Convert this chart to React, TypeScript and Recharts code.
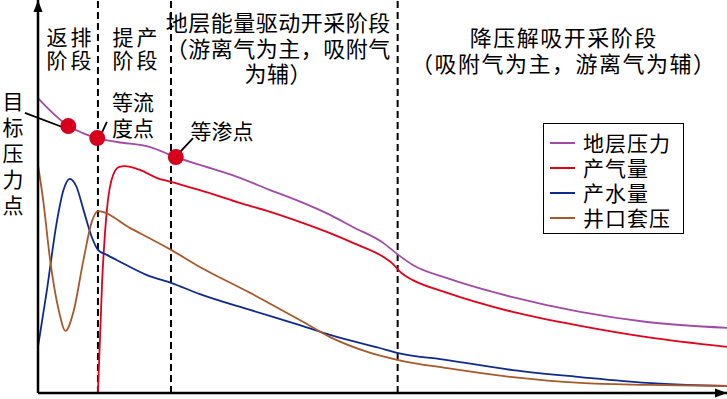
import type { CSSProperties } from 'react'
import {
  Legend,
  Line,
  LineChart,
  ReferenceDot,
  ReferenceLine,
  XAxis,
  YAxis,
} from 'recharts'

document.body.style.margin = '0'

// schematic units: x 0-100 along the time axis, y 0-101.3 up the value axis
const xPressure = [0, 1.7, 4.4, 6.5, 8.6, 11.5, 16.3, 20.0, 23.5, 28.9, 33.7, 38.5, 42.4, 45.7, 50.1, 52.3, 54.4, 59.4, 68.9, 78.7, 88.4, 100]
const yPressure = [76.0, 72.9, 68.8, 67.0, 65.7, 64.7, 63.4, 60.8, 58.8, 55.7, 52.3, 49.0, 45.9, 42.8, 38.7, 35.6, 33.0, 29.6, 24.7, 20.9, 18.3, 16.8]

const xGas = [8.7, 9.3, 10.0, 10.9, 11.8, 12.6, 14.8, 17.3, 19.3, 23.5, 28.9, 33.7, 38.5, 42.4, 45.7, 50.1, 51.5, 52.3, 53.3, 54.4, 59.4, 68.9, 78.7, 88.4, 100]
const yGas = [0, 28.4, 47.2, 56.2, 58.3, 58.5, 57.5, 55.4, 54.4, 52.3, 49.2, 46.7, 43.8, 41.2, 38.7, 35.1, 33.3, 31.7, 30.2, 29.1, 25.8, 20.9, 17.3, 14.4, 11.9]

const xWater = [0, 1.3, 2.7, 3.7, 4.6, 5.6, 6.6, 7.8, 8.7, 10.0, 11.4, 15.8, 19.3, 23.5, 30.8, 38.0, 42.4, 49.6, 52.3, 59.4, 68.9, 78.7, 88.4, 94.2, 100]
const yWater = [11.9, 26.6, 43.8, 52.3, 55.2, 53.1, 47.2, 40.2, 36.9, 35.6, 34.3, 30.4, 28.4, 25.5, 21.4, 17.5, 15.0, 11.6, 10.3, 8.5, 5.9, 4.1, 2.6, 2.1, 1.8]

const xCasing = [0, 0.8, 1.7, 3.0, 4.0, 5.1, 6.6, 7.8, 8.7, 13.4, 19.3, 23.5, 30.8, 38.0, 42.4, 47.8, 52.3, 59.4, 68.9, 78.7, 88.4, 100]
const yCasing = [58.8, 49.0, 35.1, 21.4, 16.0, 20.6, 34.3, 44.1, 46.9, 42.5, 36.9, 32.5, 25.8, 18.8, 14.4, 10.6, 8.5, 6.4, 4.1, 2.6, 2.1, 1.8]

const stageBounds = [8.7, 19.3, 52.2]

const keyPoints = [
  { x: 4.4, y: 68.8 },
  { x: 8.6, y: 65.7 },
  { x: 20.0, y: 60.8 },
]

const pointerLines = [
  [{ x: -1.9, y: 72.2 }, { x: 3.9, y: 68.3 }],
  [{ x: 10.0, y: 69.9 }, { x: 8.9, y: 65.7 }],
  [{ x: 22.5, y: 65.7 }, { x: 20.5, y: 61.9 }],
]

const seriesNames = ['地层压力', '产气量', '产水量', '井口套压']
const seriesColors = ['#a04ca6', '#e2001a', '#0d2b8e', '#a8582a']

function toPoints(xs: number[], ys: number[]) {
  return xs.map((x, i) => ({ x, y: ys[i] }))
}

const seriesData = [
  toPoints(xPressure, yPressure),
  toPoints(xGas, yGas),
  toPoints(xWater, yWater),
  toPoints(xCasing, yCasing),
]

const font = '"Noto Sans CJK SC", "Noto Sans", sans-serif'

type NoteProps = {
  cx: number
  top: number
  lines: string[]
  lineHeight: number
  size?: number
  spacing?: number
}

function Note({ cx, top, lines, lineHeight, size = 22, spacing = 0 }: NoteProps) {
  const style: CSSProperties = {
    position: 'absolute',
    left: cx - 200 + spacing / 2,
    top,
    width: 400,
    textAlign: 'center',
    fontFamily: font,
    fontSize: size,
    lineHeight: `${lineHeight}px`,
    letterSpacing: spacing,
    color: '#000',
    pointerEvents: 'none',
    whiteSpace: 'nowrap',
  }
  return (
    <div style={style}>
      {lines.map((l) => (
        <div key={l}>{l}</div>
      ))}
    </div>
  )
}

function ArrowRight({ cx, cy }: { cx?: number; cy?: number }) {
  if (cx == null || cy == null) return null
  return <path d={`M${cx},${cy} L${cx - 12},${cy - 4.5} L${cx - 12},${cy + 4.5} Z`} fill="#000" />
}

function ArrowUp({ cx, cy }: { cx?: number; cy?: number }) {
  if (cx == null || cy == null) return null
  return <path d={`M${cx},${cy} L${cx - 4.5},${cy + 12} L${cx + 4.5},${cy + 12} Z`} fill="#000" />
}

function renderLegend() {
  return (
    <div
      style={{
        border: '1.5px solid #000',
        background: '#fff',
        boxSizing: 'border-box',
        width: 141,
        height: 111,
        padding: '6px 0 0 6px',
        fontFamily: font,
        fontSize: 21,
        letterSpacing: 1,
      }}
    >
      {seriesNames.map((name, i) => (
        <div key={name} style={{ display: 'flex', alignItems: 'center', height: 25, lineHeight: '25px' }}>
          <span style={{ width: 25, height: 2, background: seriesColors[i], marginRight: 8 }} />
          <span>{name}</span>
        </div>
      ))}
    </div>
  )
}

export default function App() {
  return (
    <div style={{ position: 'relative', width: 727, height: 399, background: '#fff' }}>
      <LineChart width={727} height={399} margin={{ top: 0, right: 0, bottom: 6, left: 38 }}>
        <XAxis type="number" dataKey="x" domain={[0, 100]} hide />
        <YAxis type="number" domain={[0, 101.3]} hide />
        {stageBounds.map((x) => (
          <ReferenceLine key={x} x={x} stroke="#000" strokeWidth={2} strokeDasharray="7 4" />
        ))}
        {seriesData.map((data, i) => (
          <Line
            key={seriesNames[i]}
            data={data}
            dataKey="y"
            name={seriesNames[i]}
            type="monotone"
            stroke={seriesColors[i]}
            strokeWidth={1.8}
            dot={false}
            isAnimationActive={false}
          />
        ))}
        <ReferenceLine y={0} stroke="#000" strokeWidth={2.5} ifOverflow="visible" />
        <ReferenceLine x={0} stroke="#000" strokeWidth={2.5} ifOverflow="visible" />
        {keyPoints.map((p) => (
          <ReferenceDot key={p.x} x={p.x} y={p.y} r={8} fill="#d6001c" stroke="none" />
        ))}
        {pointerLines.map((seg, i) => (
          <ReferenceLine key={i} segment={seg} stroke="#000" strokeWidth={1.8} ifOverflow="visible" />
        ))}
        <ReferenceDot x={100} y={0} r={0} shape={ArrowRight} ifOverflow="visible" />
        <ReferenceDot x={0} y={101.3} r={0} shape={ArrowUp} ifOverflow="visible" />
        <Legend
          layout="vertical"
          align="center"
          verticalAlign="middle"
          content={renderLegend}
          wrapperStyle={{ left: 543, top: 123, width: 141, height: 111 }}
        />
      </LineChart>
      <Note cx={13} top={87} lines={['目', '标', '压', '力', '点']} lineHeight={26} size={21} />
      <Note cx={69} top={25} lines={['返排', '阶段']} lineHeight={23} size={21} spacing={3} />
      <Note cx={135} top={25} lines={['提产', '阶段']} lineHeight={23} size={21} spacing={3} />
      <Note cx={133} top={88} lines={['等流', '度点']} lineHeight={26} size={21} />
      <Note cx={222} top={117} lines={['等渗点']} lineHeight={26} size={21} />
      <Note cx={278} top={9} lines={['地层能量驱动开采阶段', '（游离气为主，吸附气', '为辅）']} lineHeight={25.5} spacing={0.5} />
      <Note cx={563} top={23} lines={['降压解吸开采阶段', '（吸附气为主，游离气为辅）']} lineHeight={26} spacing={1.5} />
    </div>
  )
}
